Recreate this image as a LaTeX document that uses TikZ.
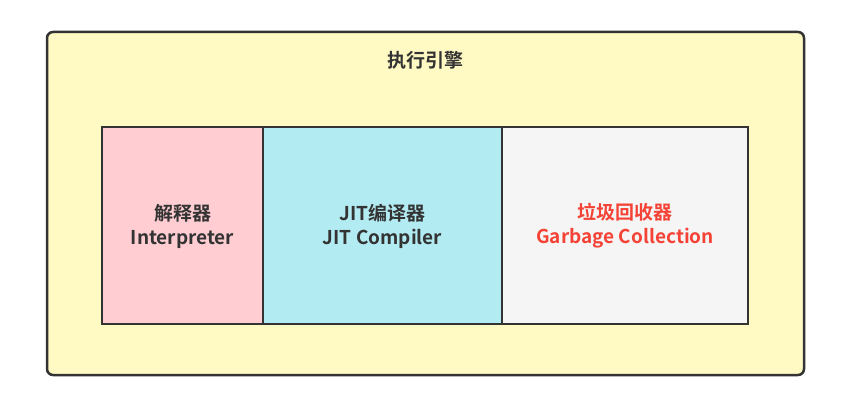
\documentclass[tikz,border=0pt]{standalone}
\usepackage{fontspec}
\setmainfont{Noto Sans CJK SC}[BoldFont={Noto Sans CJK SC Bold}]
\definecolor{outerfill}{HTML}{FFF9C4}
\definecolor{pinkfill}{HTML}{FFCDD2}
\definecolor{cyanfill}{HTML}{B2EBF2}
\definecolor{grayfill}{HTML}{F5F5F5}
\definecolor{edge}{HTML}{333333}
\definecolor{redtext}{HTML}{F44336}
\tikzset{
  panel/.style={draw=edge, line width=2pt, minimum height=197pt, inner sep=0pt},
  label/.style={align=center, inner sep=0pt, font=\fontsize{19}{24}\selectfont\bfseries},
}
\begin{document}
\begin{tikzpicture}[x=1pt,y=-1pt]
\useasboundingbox (0,0) rectangle (851,411);
\draw[draw=edge, fill=outerfill, line width=2.5pt, rounded corners=6pt] (47,32) rectangle (804,375);
\node[label, text=edge] (title) at (425.5,60) {执行引擎};
\node[panel, fill=pinkfill, minimum width=161pt] (interp) at (182.5,225.5) {};
\node[panel, fill=cyanfill, minimum width=239pt] (jit) at (382.5,225.5) {};
\node[panel, fill=grayfill, minimum width=246pt] (gc) at (625,225.5) {};
\node[label, text=edge] (t1) at (182.5,226) {解释器\\Interpreter};
\node[label, text=edge] (t2) at (382.5,226) {JIT编译器\\JIT Compiler};
\node[label, text=redtext] (t3) at (625,226) {垃圾回收器\\Garbage Collection};
\end{tikzpicture}
\end{document}
